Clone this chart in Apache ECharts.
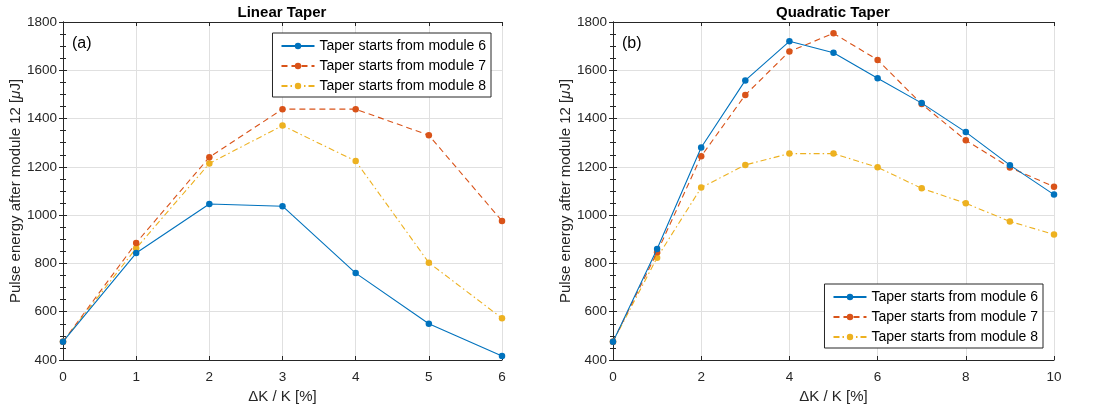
<!DOCTYPE html>
<html><head><meta charset="utf-8">
<script src="https://cdn.jsdelivr.net/npm/echarts@6/dist/echarts.min.js"></script>
<style>html,body{margin:0;padding:0;background:#fff}#c{width:1093px;height:414px}</style>
</head><body><div id="c"></div>
<script>
const seriesNames = ['Taper starts from module 6','Taper starts from module 7','Taper starts from module 8'];
const linearX = [0,1,2,3,4,5,6];
const linearM6 = [476,843,1046,1037,760,550,417];
const linearM7 = [476,885,1240,1439,1439,1331,976];
const linearM8 = [476,863,1214,1371,1224,803,573];
const quadX = [0,1,2,3,4,5,6,7,8,9,10];
const quadM6 = [476,860,1280,1558,1720,1673,1567,1464,1344,1207,1085];
const quadM7 = [476,846,1244,1498,1678,1753,1643,1460,1310,1197,1118];
const quadM8 = [476,824,1114,1208,1255,1255,1198,1111,1049,974,920];
const yTicks = [400,600,800,1000,1200,1400,1600,1800];

const colors = ['#0072BD','#D95319','#EDB120'];
const dashes = ['solid',[6,4],[6,3,1.5,3]];
const FONT = 'Liberation Sans, Arial, sans-serif';
const TXT = '#262626';

function pairs(xs, ys){ return xs.map((x,i)=>[x, ys[i]]); }

function mkSeries(gi, xs, arrs){
  return arrs.map((ys,k)=>({
    name: seriesNames[k], type:'line', xAxisIndex: gi*2, yAxisIndex: gi*2,
    data: pairs(xs, ys), symbol:'circle', symbolSize:6.5, showSymbol:true,
    itemStyle:{color:colors[k]}, lineStyle:{color:colors[k], width:1.1, type:dashes[k]},
    animation:false, z: 3-k
  }));
}

function xAxes(gi, max, interval){
  return [
    {type:'value', gridIndex:gi, min:0, max:max, interval:interval, position:'bottom',
     name:'ΔK / K [%]', nameLocation:'middle', nameGap:29,
     nameTextStyle:{fontFamily:FONT, fontSize:15, color:TXT},
     axisLine:{show:true, lineStyle:{color:TXT}}, axisTick:{show:true, inside:true, length:4, lineStyle:{color:TXT}},
     axisLabel:{fontFamily:FONT, fontSize:13.5, color:TXT, margin:10},
     splitLine:{show:true, lineStyle:{color:'#e0e0e0', width:1}}},
    {type:'value', gridIndex:gi, min:0, max:max, interval:interval, position:'top',
     axisLine:{show:true, lineStyle:{color:TXT}}, axisTick:{show:true, inside:true, length:4, lineStyle:{color:TXT}},
     axisLabel:{show:false}, splitLine:{show:false}}
  ];
}
function yAxes(gi){
  return [
    {type:'value', gridIndex:gi, min:400, max:1800, interval:200, position:'left',
     name:'Pulse energy after module 12 [{i|μ}J]', nameLocation:'middle', nameGap:40,
     nameTextStyle:{fontFamily:FONT, fontSize:15, color:TXT, rich:{i:{fontFamily:FONT, fontSize:15, fontStyle:'italic', color:TXT}}},
     axisLine:{show:true, lineStyle:{color:TXT}}, axisTick:{show:true, inside:true, length:4, lineStyle:{color:TXT}},
     minorTick:{show:true, splitNumber:4, length:3, lineStyle:{color:TXT}},
     axisLabel:{fontFamily:FONT, fontSize:13.5, color:TXT, margin:6, formatter:v=>yTicks.includes(v)?String(v):''},
     splitLine:{show:true, lineStyle:{color:'#e0e0e0', width:1}}},
    {type:'value', gridIndex:gi, min:400, max:1800, interval:200, position:'right',
     axisLine:{show:true, lineStyle:{color:TXT}}, axisTick:{show:true, inside:true, length:4, lineStyle:{color:TXT}},
     minorTick:{show:true, splitNumber:4, length:3, lineStyle:{color:TXT}},
     axisLabel:{show:false}, splitLine:{show:false}}
  ];
}

const legendCommon = {
  orient:'vertical', data:seriesNames, backgroundColor:'#fff', borderColor:TXT, borderWidth:1,
  padding:[6,5,4,8], itemGap:6, itemWidth:33, itemHeight:8,
  textStyle:{fontFamily:FONT, fontSize:14, color:'#000'}, selectedMode:false
};

const chart = echarts.init(document.getElementById('c'), null, {renderer:'canvas'});
chart.setOption({
  backgroundColor:'#fff',
  animation:false,
  title:[
    {text:'Linear Taper', left:277, top:0, textAlign:'center', textStyle:{fontFamily:FONT, fontSize:15, fontWeight:'bold', color:'#000'}},
    {text:'Quadratic Taper', left:828, top:0, textAlign:'center', textStyle:{fontFamily:FONT, fontSize:15, fontWeight:'bold', color:'#000'}},
    {text:'(a)', left:67, top:31, textStyle:{fontFamily:FONT, fontSize:16, fontWeight:'normal', color:'#000'}},
    {text:'(b)', left:617, top:31, textStyle:{fontFamily:FONT, fontSize:16, fontWeight:'normal', color:'#000'}}
  ],
  grid:[
    {left:63, right:591, top:22, bottom:54, show:false},
    {left:613, right:39, top:22, bottom:54, show:false}
  ],
  xAxis:[...xAxes(0,6,1), ...xAxes(1,10,2)],
  yAxis:[...yAxes(0), ...yAxes(1)],
  legend:[
    Object.assign({}, legendCommon, {right:602, top:33}),
    Object.assign({}, legendCommon, {right:50, top:284})
  ],
  series:[...mkSeries(0, linearX, [linearM6, linearM7, linearM8]), ...mkSeries(1, quadX, [quadM6, quadM7, quadM8])]
});
</script></body></html>
